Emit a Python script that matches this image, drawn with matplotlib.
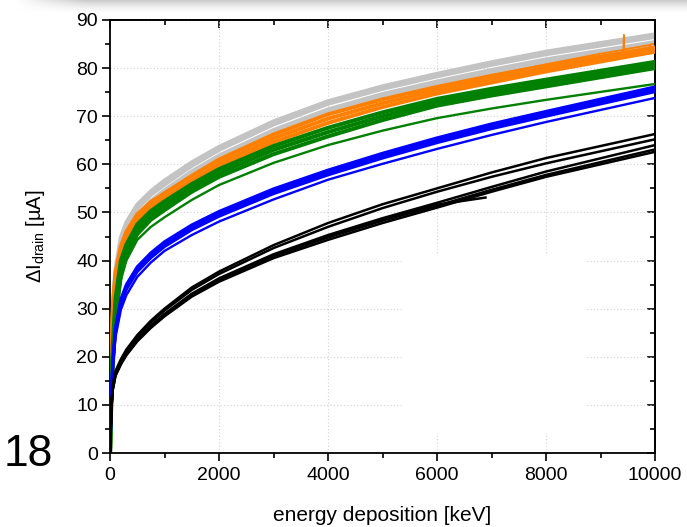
import numpy as np
import matplotlib
matplotlib.use('Agg')
import matplotlib.pyplot as plt
from matplotlib.ticker import MultipleLocator, NullFormatter
from matplotlib.patches import Rectangle

plt.rcParams['font.family'] = ['Liberation Sans', 'DejaVu Sans']
plt.rcParams['mathtext.fontset'] = 'custom'
plt.rcParams['mathtext.rm'] = 'Liberation Sans'
plt.rcParams['mathtext.it'] = 'Liberation Sans'

# ---------------- data ----------------
energy = [0, 25, 50, 100, 200, 300, 500, 750, 1000, 1500, 2000, 3000, 4000,
          5000, 6000, 7000, 8000, 10000]

gray_1 = [0, 22, 31, 38, 44.8, 47.9, 51.6, 54.4, 56.6, 60.4, 63.6, 68.9, 73.1, 76.2, 78.8, 81.2, 83.4, 87.0]
gray_2 = [0, 20.5, 29.5, 37, 43.8, 47.0, 50.8, 53.7, 55.8, 59.7, 63.0, 68.3, 72.6, 75.7, 78.3, 80.7, 82.9, 86.5]
gray_3 = [0, 18, 27, 35, 42.2, 45.5, 49.4, 52.4, 54.6, 58.5, 61.8, 67.1, 71.4, 74.6, 77.2, 79.6, 81.8, 85.4]
gray_4 = [0, 16.5, 25.5, 34, 41.4, 44.8, 48.8, 51.9, 54.1, 58.0, 61.3, 66.6, 70.9, 74.1, 76.7, 79.1, 81.3, 84.9]

energy_orange_0 = [0, 25, 50, 100, 200, 300, 500, 750, 1000, 1500, 2000, 3000, 4000,
                   5000, 6000, 7000, 8000, 9000, 9420, 9430, 9435, 9445, 9900, 9905, 9912, 10000]
orange_0 = [0, 20, 30, 37.5, 43.0, 46.0, 49.6, 52.2, 54.0, 57.6, 61.0, 66.2, 70.4, 73.5, 76.1,
            78.5, 80.8, 83.0, 83.8, 86.9, 82.4, 83.9, 84.8, 83.1, 84.9, 85.1]
orange_1 = [0, 20, 30, 37.5, 43.0, 46.0, 49.6, 52.2, 54.0, 57.6, 61.0, 66.2, 70.4, 73.5, 76.1, 78.4, 80.5, 84.3]
orange_2 = [0, 19, 29, 36.5, 42.0, 45.0, 48.7, 51.3, 53.1, 56.7, 60.2, 65.4, 69.5, 72.7, 75.4, 77.7, 79.9, 83.9]
orange_3 = [0, 18, 28, 35.5, 41.0, 44.0, 47.8, 50.4, 52.2, 55.9, 59.4, 64.6, 68.6, 71.9, 74.7, 77.0, 79.3, 83.4]

green_1 = [0, 13, 22, 32, 40, 43.3, 47.5, 50.3, 52.3, 55.9, 59.0, 63.8, 67.6, 70.8, 73.6, 75.7, 77.6, 81.3]
green_2 = [0, 12, 20, 30, 38.5, 42.2, 46.5, 49.4, 51.4, 55.1, 58.2, 63.0, 66.7, 70.0, 72.9, 75.0, 76.9, 80.7]
green_3 = [0, 11, 18, 28, 37, 41.0, 45.5, 48.5, 50.5, 54.3, 57.4, 62.1, 65.8, 69.2, 72.2, 74.3, 76.2, 80.0]
green_thin = [0, 10, 17, 27, 36, 40, 44.3, 47.0, 49.0, 52.6, 55.7, 60.3, 64.0, 67.0, 69.6, 71.6, 73.4, 76.7]

blue_1 = [0, 12, 19, 26, 32, 35, 38.7, 41.6, 43.9, 47.4, 50.2, 54.9, 58.8, 62.3, 65.5, 68.4, 71.0, 76.1]
blue_2 = [0, 11.5, 18.5, 25.5, 31.5, 34.5, 38.2, 41.1, 43.4, 46.9, 49.7, 54.4, 58.3, 61.8, 65.0, 67.9, 70.5, 75.6]
blue_3 = [0, 11, 18, 25, 31, 34, 37.7, 40.6, 42.9, 46.4, 49.2, 53.9, 57.8, 61.3, 64.5, 67.4, 70.0, 75.1]
blue_4 = [0, 10, 17, 24, 29.8, 32.8, 36.6, 39.6, 42.0, 45.3, 48.1, 52.7, 56.8, 60.1, 63.2, 66.1, 68.8, 73.8]

black_1 = [0, 10, 14, 17, 19.5, 21.5, 24.5, 27.5, 30.0, 34.4, 37.7, 43.2, 47.8, 51.7, 55.0, 58.3, 61.3, 66.3]
black_2 = [0, 10, 13.8, 16.8, 19.2, 21.2, 24.2, 27.1, 29.6, 33.9, 37.2, 42.6, 47.0, 50.9, 54.3, 57.4, 60.2, 65.2]
black_3 = [0, 9.5, 13.5, 16.5, 18.8, 20.7, 23.6, 26.5, 28.9, 33.1, 36.3, 41.3, 45.3, 48.8, 52.0, 55.3, 58.5, 64.0]
black_4 = [0, 9, 13, 16, 18.4, 20.3, 23.2, 26.0, 28.4, 32.5, 35.6, 40.5, 44.3, 47.8, 51.0, 54.3, 57.4, 62.6]
black_5 = [0, 9.2, 13.2, 16.2, 18.6, 20.5, 23.4, 26.3, 28.7, 32.8, 35.9, 40.9, 44.8, 48.3, 51.4, 54.7, 57.8, 63.1]
energy_black_6 = [0, 25, 50, 100, 200, 300, 500, 750, 1000, 1500, 2000, 3000, 4000, 5000, 6000, 6890]
black_6 = [0, 9.3, 13.3, 16.3, 18.7, 20.6, 23.5, 26.3, 28.7, 32.9, 36.0, 41.0, 45.0, 48.4, 51.6, 53.1]

x_ticks = [0, 2000, 4000, 6000, 8000, 10000]
y_ticks = [0, 10, 20, 30, 40, 50, 60, 70, 80, 90]
x_label = 'energy deposition [keV]'
y_label = 'ΔI$_{\\mathregular{drain}}$ [µA]'
slide_number = '18'

# ---------------- figure ----------------
W, H = 687, 527
fig = plt.figure(figsize=(W / 100, H / 100), dpi=100)
fig.patch.set_facecolor('white')

# slide shadow at the top
sh = 18
img = np.ones((sh, W, 4))
yy = np.arange(sh)[:, None]
xx = np.arange(W)[None, :]
a_y = np.clip(1 - yy / 15.0, 0, 1) ** 2
a_x = np.clip((xx - 15) / 70.0, 0, 1)
img[..., 0:3] = 0.55
img[..., 3] = 0.45 * a_y * a_x
fig.figimage(img, xo=0, yo=H - sh, origin='upper', zorder=0)

ax = fig.add_axes([110 / W, 74 / H, 545 / W, 433 / H])
ax.set_xlim(0, 10000)
ax.set_ylim(0, 90)

ax.set_axisbelow(True)
ax.grid(True, which='major', color='#d2d2d2', linestyle=(0, (1, 2)), linewidth=0.8)
ax.add_patch(Rectangle((5376, 4.2), 3376, 37.0, facecolor='white', edgecolor='none', zorder=1))

lw = 1.7
for y in (gray_1, gray_2, gray_3, gray_4):
    ax.plot(energy, y, color='#c3c3c3', lw=3.0, zorder=2)
ax.plot(energy_orange_0, orange_0, color='#ff7f00', lw=1.3, zorder=2.5)
for y in (orange_1, orange_2, orange_3):
    ax.plot(energy, y, color='#ff7f00', lw=2.8, zorder=3)
for y in (green_1, green_2, green_3):
    ax.plot(energy, y, color='#008000', lw=2.9, zorder=3)
ax.plot(energy, green_thin, color='#008000', lw=lw, zorder=3)
for y in (blue_1, blue_2, blue_3):
    ax.plot(energy, y, color='#0000ff', lw=2.2, zorder=3)
ax.plot(energy, blue_4, color='#0000ff', lw=lw, zorder=3)
for y in (black_1, black_2, black_3, black_4, black_5):
    ax.plot(energy, y, color='black', lw=1.8, zorder=3)
ax.plot(energy_black_6, black_6, color='black', lw=1.8, zorder=3)

ax.set_xticks(x_ticks)
ax.set_yticks(y_ticks)
ax.xaxis.set_minor_locator(MultipleLocator(1000))
ax.yaxis.set_minor_locator(MultipleLocator(5))
ax.tick_params(which='major', direction='out', length=6, width=1.2, labelsize=14, color='black')
ax.tick_params(which='minor', direction='out', length=3.8, width=1.2)
ax.tick_params(axis='x', which='major', pad=4)
ax.tick_params(axis='y', which='major', pad=2.5)
for s in ax.spines.values():
    s.set_linewidth(1.3)

secx = ax.secondary_xaxis('top')
secx.set_xticks(x_ticks)
secx.xaxis.set_minor_locator(MultipleLocator(1000))
secx.xaxis.set_major_formatter(NullFormatter())
secx.tick_params(which='major', direction='in', length=6, width=1.2)
secx.tick_params(which='minor', direction='in', length=3.8, width=1.2)
secx.spines['top'].set_linewidth(1.3)

secy = ax.secondary_yaxis('right')
secy.set_yticks(y_ticks)
secy.yaxis.set_minor_locator(MultipleLocator(5))
secy.yaxis.set_major_formatter(NullFormatter())
secy.tick_params(which='major', direction='in', length=6, width=1.2)
secy.tick_params(which='minor', direction='in', length=3.8, width=1.2)
secy.spines['right'].set_linewidth(1.3)

ax.set_xlabel(x_label, fontsize=15, labelpad=16)
ax.set_ylabel(y_label, fontsize=14.5, labelpad=21)

fig.text(4 / W, 1 - 454 / H, slide_number, fontsize=32, ha='left', va='center')

fig.savefig('out.png', dpi=100)
